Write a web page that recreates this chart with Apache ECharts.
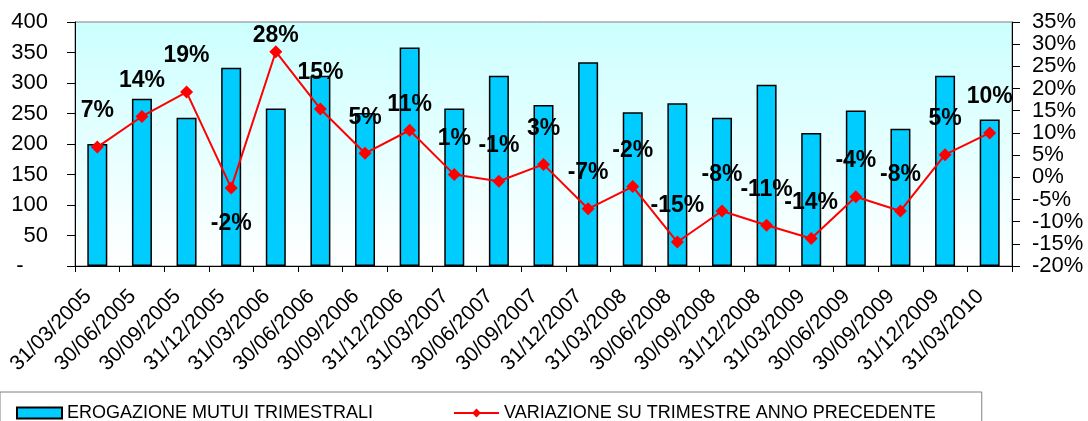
<!DOCTYPE html>
<html>
<head>
<meta charset="utf-8">
<script src="https://cdn.jsdelivr.net/npm/echarts@6/dist/echarts.min.js"></script>
<style>
html,body{margin:0;padding:0;background:#fff;}
#chart{width:1088px;height:421px;}
</style>
</head>
<body>
<div id="chart"></div>
<script>
var categories = ['31/03/2005','30/06/2005','30/09/2005','31/12/2005','31/03/2006','30/06/2006','30/09/2006','31/12/2006','31/03/2007','30/06/2007','30/09/2007','31/12/2007','31/03/2008','30/06/2008','30/09/2008','31/12/2008','31/03/2009','30/06/2009','30/09/2009','31/12/2009','31/03/2010'];
var erogazione = [200, 274, 243, 325, 258, 312, 251, 358, 258, 312, 264, 334, 252, 267, 243, 297, 218, 255, 225, 312, 240];
var variazione = [6.8, 13.7, 19.2, -2.4, 28.3, 15.4, 5.4, 10.6, 0.6, -0.9, 2.9, -7.1, -2.1, -14.6, -7.6, -10.8, -13.8, -4.4, -7.6, 5.1, 10.0];
var leftTicks = {min: 0, max: 400, interval: 50};
var rightTicks = {min: -20, max: 35, interval: 5};
var seriesNames = ['EROGAZIONE MUTUI TRIMESTRALI', 'VARIAZIONE SU TRIMESTRE ANNO PRECEDENTE'];

var FONT = '"Liberation Sans", Arial, "DejaVu Sans", sans-serif';

var lineData = variazione.map(function (v, i) {
  var item = {value: v};
  if (i === 3) {
    item.label = {position: 'bottom'};
  } else if (i === 4) {
    item.label = {offset: [0, 20]};
  } else if (i === 7) {
    item.label = {offset: [0, 10]};
  }
  return item;
});

var chart = echarts.init(document.getElementById('chart'), null, {renderer: 'canvas'});
chart.setOption({
  animation: false,
  backgroundColor: '#ffffff',
  textStyle: {fontFamily: FONT, color: '#000'},
  grid: {
    left: 75, right: 76, top: 22, bottom: 155,
    show: true,
    borderColor: '#808080',
    borderWidth: 1,
    backgroundColor: {
      type: 'linear', x: 0, y: 0, x2: 0, y2: 1,
      colorStops: [{offset: 0, color: '#CCFFFF'}, {offset: 1, color: '#FFFFFF'}]
    }
  },
  legend: {
    left: 0,
    top: 392,
    padding: [12, 46, 24, 16],
    itemGap: 80,
    itemWidth: 45,
    itemHeight: 11,
    borderColor: '#808080',
    borderWidth: 1,
    textStyle: {fontFamily: FONT, fontSize: 18, color: '#000'},
    data: [{name: seriesNames[0], icon: 'rect'}, {name: seriesNames[1]}]
  },
  xAxis: {
    type: 'category',
    data: categories,
    boundaryGap: true,
    axisLine: {lineStyle: {color: '#000', width: 1}},
    axisTick: {show: true, length: 6, lineStyle: {color: '#000'}},
    axisLabel: {
      rotate: 45,
      margin: 18,
      padding: [0, 13, 0, 0],
      interval: 0,
      fontSize: 21,
      fontFamily: FONT,
      color: '#000'
    },
    splitLine: {show: false}
  },
  yAxis: [
    {
      type: 'value',
      min: leftTicks.min, max: leftTicks.max, interval: leftTicks.interval,
      axisLine: {show: true, lineStyle: {color: '#000'}},
      axisTick: {show: true, length: 8, lineStyle: {color: '#000'}},
      axisLabel: {
        margin: 27, fontSize: 22, fontFamily: FONT, color: '#000',
        formatter: function (v) { return v === 0 ? '-    ' : String(v); }
      },
      splitLine: {show: false}
    },
    {
      type: 'value',
      position: 'right',
      min: rightTicks.min, max: rightTicks.max, interval: rightTicks.interval,
      axisLine: {show: true, lineStyle: {color: '#000'}},
      axisTick: {show: true, length: 8, lineStyle: {color: '#000'}},
      axisLabel: {
        margin: 20, fontSize: 22, fontFamily: FONT, color: '#000',
        formatter: function (v) { return v + '%'; }
      },
      splitLine: {show: false}
    }
  ],
  series: [
    {
      name: seriesNames[0],
      type: 'bar',
      yAxisIndex: 0,
      data: erogazione,
      barWidth: 20,
      itemStyle: {color: '#00CCFF', borderColor: '#000', borderWidth: 1.5},
      z: 2
    },
    {
      name: seriesNames[1],
      type: 'line',
      yAxisIndex: 1,
      data: lineData,
      symbol: 'diamond',
      symbolSize: 13,
      lineStyle: {color: '#FF0000', width: 2},
      itemStyle: {color: '#FF0000'},
      label: {
        show: true,
        position: 'top',
        distance: 18,
        fontSize: 23,
        fontWeight: 'bold',
        fontFamily: FONT,
        color: '#000',
        formatter: function (p) { return Math.round(p.value) + '%'; }
      },
      z: 3
    }
  ]
});
</script>
</body>
</html>
